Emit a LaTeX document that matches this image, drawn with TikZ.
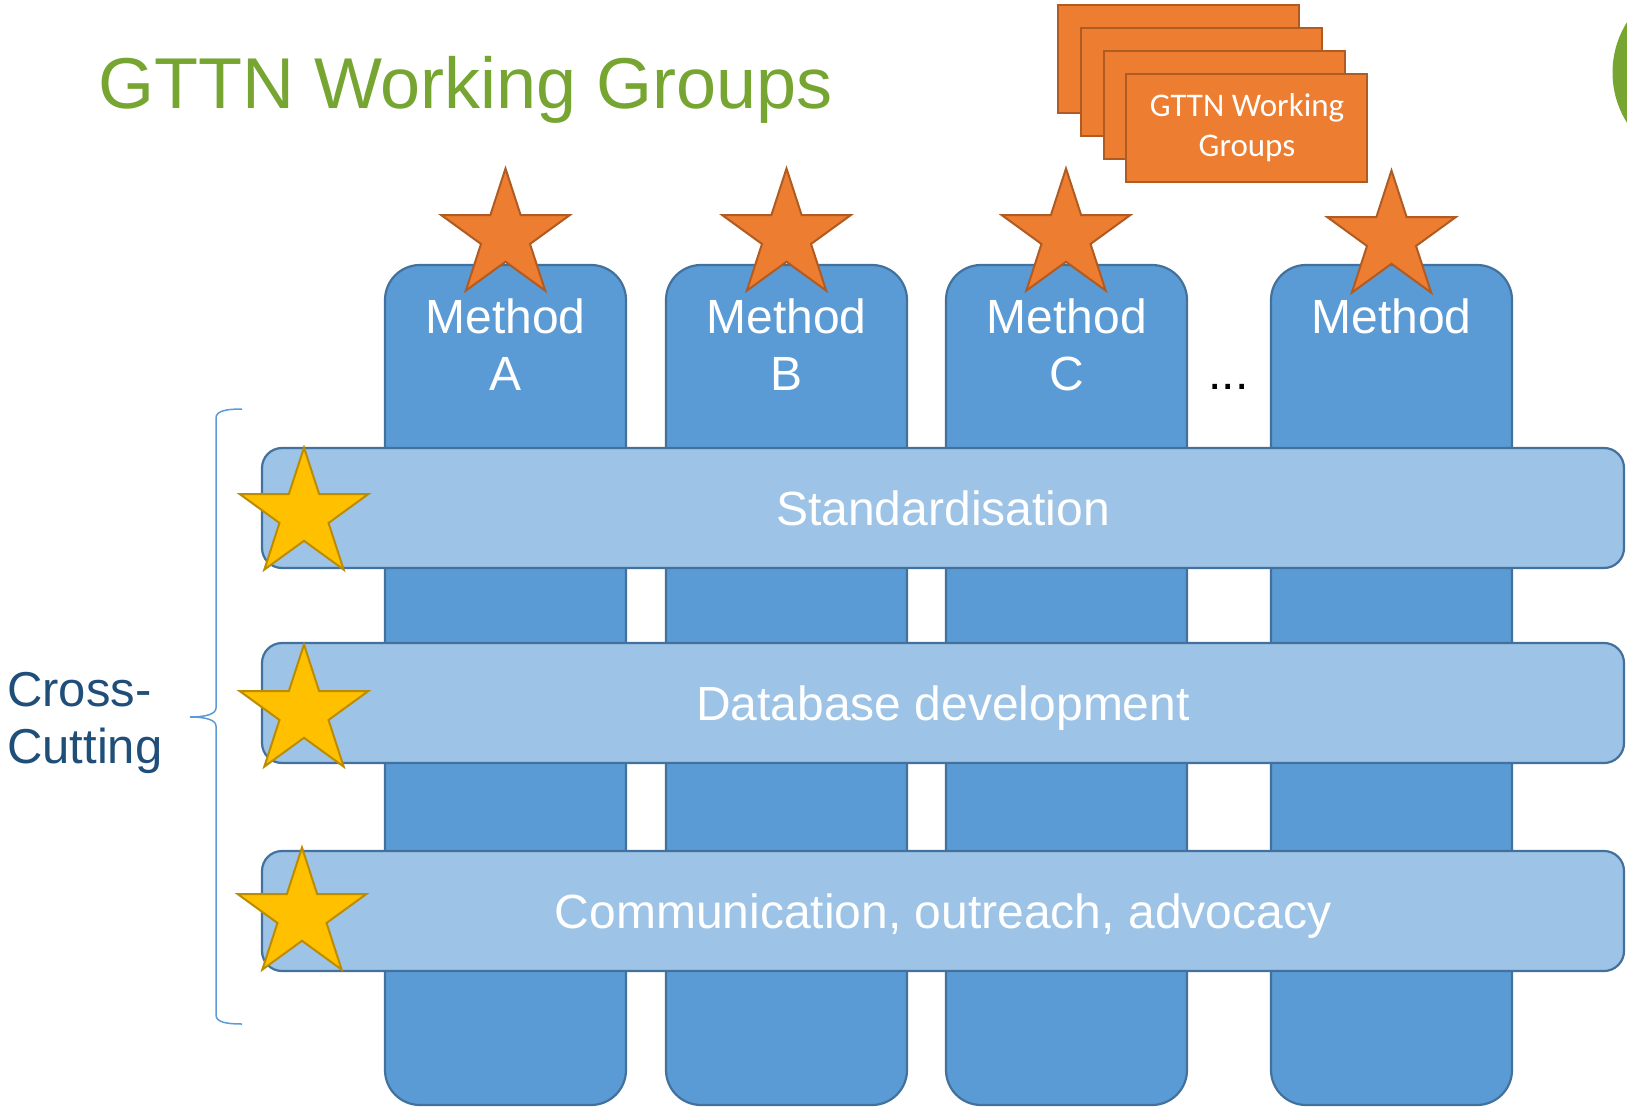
\documentclass[tikz,border=0pt]{standalone}
\usepackage{fontspec}
\setmainfont{Liberation Sans}
\newfontfamily\carlito{Carlito}
\usetikzlibrary{shapes.geometric}
\definecolor{colfill}{HTML}{5B9BD5}
\definecolor{barfill}{HTML}{9DC3E6}
\definecolor{blueline}{HTML}{41719C}
\definecolor{orfill}{HTML}{ED7D31}
\definecolor{orline}{HTML}{B05B22}
\definecolor{yefill}{HTML}{FFC000}
\definecolor{yeline}{HTML}{BC8C00}
\definecolor{gtgreen}{HTML}{76A532}
\definecolor{ccblue}{HTML}{1F4E79}
\definecolor{bracecol}{HTML}{5B9BD5}
\begin{document}
\begin{tikzpicture}[x=1pt,y=-1pt,
  colbox/.style={draw=blueline, line width=2.2pt, fill=colfill, rounded corners=35pt,
    minimum width=241pt, minimum height=840pt, inner sep=0pt, outer sep=0pt, anchor=north west},
  barbox/.style={draw=blueline, line width=2.2pt, fill=barfill, rounded corners=20pt,
    minimum width=1362pt, minimum height=120pt, inner sep=0pt, outer sep=0pt, anchor=north west,
    text=white, font=\fontsize{48}{57}\selectfont, text depth=0pt},
  coltext/.style={text=white, font=\fontsize{48}{57}\selectfont, inner sep=0pt, anchor=base},
  ostar/.style={star, star points=5, star point ratio=2.618, minimum size=135pt, inner sep=0pt,
    fill=orfill, draw=orline, line width=2pt},
  ystar/.style={star, star points=5, star point ratio=2.618, minimum size=135pt, inner sep=0pt,
    fill=yefill, draw=yeline, line width=2pt},
  orbox/.style={draw=orline, line width=1.8pt, fill=orfill, minimum width=241pt, minimum height=108pt,
    inner sep=0pt, outer sep=0pt, anchor=north west},
  ortext/.style={text=white, font=\carlito\fontsize{33}{40}\selectfont, inner sep=0pt, anchor=base},
]
\useasboundingbox (0,0) rectangle (1627,1107);

% logo circle (cut by the page edge)
\begin{scope}
\clip (0,0) rectangle (1627,1107);
\node[circle, fill=gtgreen, minimum size=189pt, inner sep=0pt] (logo) at (1707,72.5) {};
\end{scope}

% title
\node[anchor=base west, inner sep=0pt, text=gtgreen, font=\fontsize{72}{86}\selectfont] (title) at (98,109) {GTTN Working Groups};

% stacked orange boxes
\node[orbox] (or1) at (1058,5) {};
\node[orbox] (or2) at (1081,28) {};
\node[orbox] (or3) at (1104,51) {};
\node[orbox] (or4) at (1126,74) {};
\node[ortext] (ort1) at (1247,117) {GTTN Working};
\node[ortext] (ort2) at (1247,157) {Groups};

% method columns
\node[colbox] (colA) at (385,265) {};
\node[colbox] (colB) at (666,265) {};
\node[colbox] (colC) at (946,265) {};
\node[colbox] (colD) at (1271,265) {};

\node[coltext] (labA1) at (505.5,333) {Method};
\node[coltext] (labA2) at (505.5,390) {A};
\node[coltext] (labB1) at (786.5,333) {Method};
\node[coltext] (labB2) at (786.5,390) {B};
\node[coltext] (labC1) at (1067,333) {Method};
\node[coltext] (labC2) at (1067,390) {C};
\node[coltext] (labD1) at (1391.5,333) {Method};
\node[coltext, text=black] (dots) at (1228.5,389) {...};

% cross-cutting bars
\node[barbox] (bar1) at (262,448) {Standardisation};
\node[barbox] (bar2) at (262,643) {Database development};
\node[barbox] (bar3) at (262,851) {Communication, outreach, advocacy};

% orange stars
\node[ostar] (sA) at (505.5,236) {};
\node[ostar] (sB) at (786.5,236) {};
\node[ostar] (sC) at (1066,236) {};
\node[ostar] (sD) at (1391.5,238) {};

% yellow stars
\node[ystar] (y1) at (304,515) {};
\node[ystar] (y2) at (304,712) {};
\node[ystar] (y3) at (302,915) {};

% brace
\draw[bracecol, line width=1.5pt]
  (242,409) .. controls (226,409) and (216,411) .. (216,418)
  -- (216,708) .. controls (216,714) and (206,717) .. (190,717)
  .. controls (206,717) and (216,720) .. (216,726)
  -- (216,1015) .. controls (216,1022) and (226,1024) .. (242,1024);

% cross-cutting label
\node[anchor=base west, inner sep=0pt, text=ccblue, font=\fontsize{49}{57}\selectfont] (cc1) at (7,706) {Cross-};
\node[anchor=base west, inner sep=0pt, text=ccblue, font=\fontsize{49}{57}\selectfont] (cc2) at (7,763) {Cutting};
\end{tikzpicture}
\end{document}
